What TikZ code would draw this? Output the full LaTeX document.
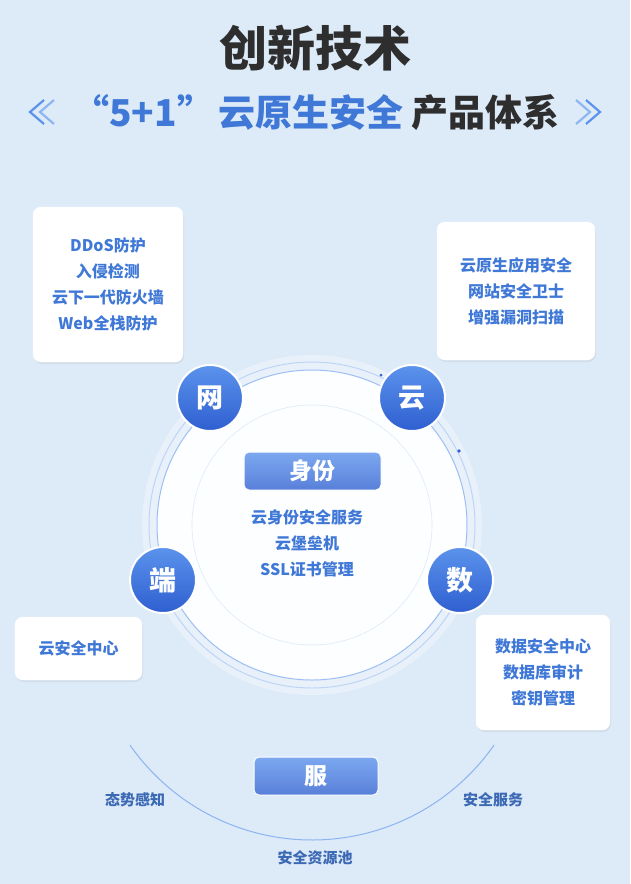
\documentclass[tikz,border=0pt]{standalone}
\usepackage{fontspec}
\setmainfont{Noto Sans CJK SC}
\usetikzlibrary{shadows}
\definecolor{bg}{HTML}{DDEAF8}
\definecolor{bluet}{HTML}{3F78D6}
\definecolor{dark}{HTML}{2E2E2E}
\definecolor{nodeA}{HTML}{5B93EC}
\definecolor{nodeB}{HTML}{2F5FD0}
\tikzset{
  card/.style={fill=white,rounded corners=8pt,draw=white,drop shadow={opacity=0.12,shadow xshift=1pt,shadow yshift=-2pt}},
  ctext/.style={font=\bfseries\fontsize{16}{26}\selectfont,text=bluet,align=center},
  ball/.style={circle,minimum size=66pt,inner sep=0pt,top color=nodeA,bottom color=nodeB,draw=white,line width=2pt,font=\bfseries\fontsize{27}{27}\selectfont,text=white},
  btn/.style={rounded corners=5pt,top color=nodeA!80,bottom color=nodeB!80,draw=white,line width=1pt,font=\bfseries\fontsize{23}{23}\selectfont,text=white,minimum height=38pt},
  lbl/.style={font=\bfseries\fontsize{15}{15}\selectfont,text=bluet!80!dark},
  chev/.style={nodeA,line width=2.2pt}
}
\begin{document}
\begin{tikzpicture}[x=1pt,y=1pt]
\fill[bg] (0,0) rectangle (630,-884);
\useasboundingbox (0,0) rectangle (630,-884);
% title
\node (t1) at (315,-48) {\bfseries\fontsize{48}{48}\selectfont\color{dark}创新技术};
\node (t2) at (316,-112) {\bfseries\fontsize{37}{37}\selectfont\color{bluet}“5+1”\hspace{4pt}云原生安全 \color{dark}产品体系};
\coordinate (cl) at (36,-112);
\coordinate (cr) at (594,-112);
\draw[chev] ([xshift=8pt,yshift=12pt]cl) -- ([xshift=-6pt]cl) -- ([xshift=8pt,yshift=-12pt]cl);
\draw[chev,opacity=0.6] ([xshift=18pt,yshift=12pt]cl) -- ([xshift=4pt]cl) -- ([xshift=18pt,yshift=-12pt]cl);
\draw[chev] ([xshift=-8pt,yshift=12pt]cr) -- ([xshift=6pt]cr) -- ([xshift=-8pt,yshift=-12pt]cr);
\draw[chev,opacity=0.6] ([xshift=-18pt,yshift=12pt]cr) -- ([xshift=-4pt]cr) -- ([xshift=-18pt,yshift=-12pt]cr);
% rings
\fill[white,opacity=0.35] (312,-525) circle (170);
\draw[nodeA!40,line width=1pt] (312,-525) circle (163);
\fill[white!95!bg,draw=nodeA!60,line width=1pt] (312,-525) circle (155);
\draw[bg,line width=0.6pt] (312,-525) circle (120);
\fill[nodeB] (459,-451) circle (1.8);
\fill[nodeB] (381,-375) circle (1.5);
% cards
\node[card,minimum width=150pt,minimum height=155pt] (c1) at (108,-284.5) {};
\node[ctext] at (c1) {DDoS防护\\入侵检测\\云下一代防火墙\\Web全栈防护};
\node[card,minimum width=158pt,minimum height=138pt] (c2) at (516,-291) {};
\node[ctext] at (c2) {云原生应用安全\\网站安全卫士\\增强漏洞扫描};
\node[card,minimum width=127pt,minimum height=63pt] (c3) at (78.5,-648.5) {};
\node[ctext] at (c3) {云安全中心};
\node[card,minimum width=134pt,minimum height=115pt] (c4) at (543,-672.5) {};
\node[ctext] at (c4) {数据安全中心\\数据库审计\\密钥管理};
% balls
\node[ball] (w) at (210,-398) {网};
\node[ball] (y) at (412,-398) {云};
\node[ball] (d) at (163,-580) {端};
\node[ball] (s) at (460,-580) {数};
% center
\node[btn,minimum width=137pt] (sf) at (312.5,-471) {身份};
\node[ctext] (sft) at (307,-543) {云身份安全服务\\云堡垒机\\SSL证书管理};
% bottom arc
\draw[nodeA!70,line width=1pt] (312,-618) ++(214.9:222) arc (214.9:325.1:222);
\node[btn,minimum width=124pt] (fw) at (316,-776) {服};
\node[lbl] (a1) at (135,-800) {态势感知};
\node[lbl] (a2) at (493,-800) {安全服务};
\node[lbl] (a3) at (315,-858) {安全资源池};
\end{tikzpicture}
\end{document}
